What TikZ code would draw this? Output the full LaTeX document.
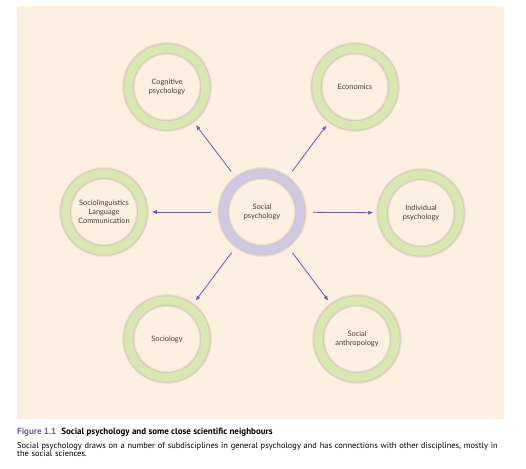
\documentclass[tikz,border=0pt]{standalone}
\usepackage{fontspec}
\setmainfont{Lato}
\newfontfamily\capfont{PT Sans}
\usetikzlibrary{arrows.meta}
\definecolor{panel}{RGB}{253,240,225}
\definecolor{ringgreen}{RGB}{216,230,176}
\definecolor{ringlilac}{RGB}{208,200,226}
\definecolor{arrowpurple}{RGB}{108,88,168}
\definecolor{labeltext}{RGB}{70,60,55}
\begin{document}
\begin{tikzpicture}[x=1pt,y=-1pt,
  ring/.style={circle, draw=ringgreen, line width=8.5pt, minimum size=77pt, inner sep=0pt,
    align=center, text=labeltext, font=\fontsize{7.4}{9.2}\selectfont,
    preaction={draw=black, draw opacity=0.06, line width=13pt},
    preaction={draw=black, draw opacity=0.10, line width=10.5pt}},
  link/.style={draw=arrowpurple, line width=0.8pt, -{Latex[length=5pt,width=4pt]},
    shorten <=8pt, shorten >=5pt}]
\useasboundingbox (0,0) rectangle (526,468);
\fill[panel] (17,6) rectangle (504,419);
% the discipline and its neighbours
\node[ring, draw=ringlilac] (soc) at (262,212) {Social\\psychology};
\node[ring] (cog) at (167,87) {Cognitive\\psychology};
\node[ring] (eco) at (355,87) {Economics};
\node[ring] (ling) at (104,212) {Sociolinguistics\\Language\\Communication};
\node[ring] (ind) at (421,213) {Individual\\psychology};
\node[ring] (sgy) at (167,339) {Sociology};
\node[ring] (anth) at (357,339) {Social\\anthropology};
\foreach \t in {cog,eco,ling,ind,sgy,anth}
  \draw[link] (soc) -- (\t);
% caption
\node[anchor=base west, inner sep=0pt, font=\capfont\bfseries\fontsize{9}{9}\selectfont] (title) at (17,434)
  {\textcolor{arrowpurple}{Figure 1.1}\hspace{5pt}Social psychology and some close scientific neighbours};
\node[anchor=base west, inner sep=0pt, text width=488pt, align=left, font=\capfont\fontsize{8.4}{8.4}\selectfont] (cap) at (17,448)
  {Social psychology draws on a number of subdisciplines in general psychology and has connections with other disciplines, mostly in the social sciences.};
\end{tikzpicture}
\end{document}
